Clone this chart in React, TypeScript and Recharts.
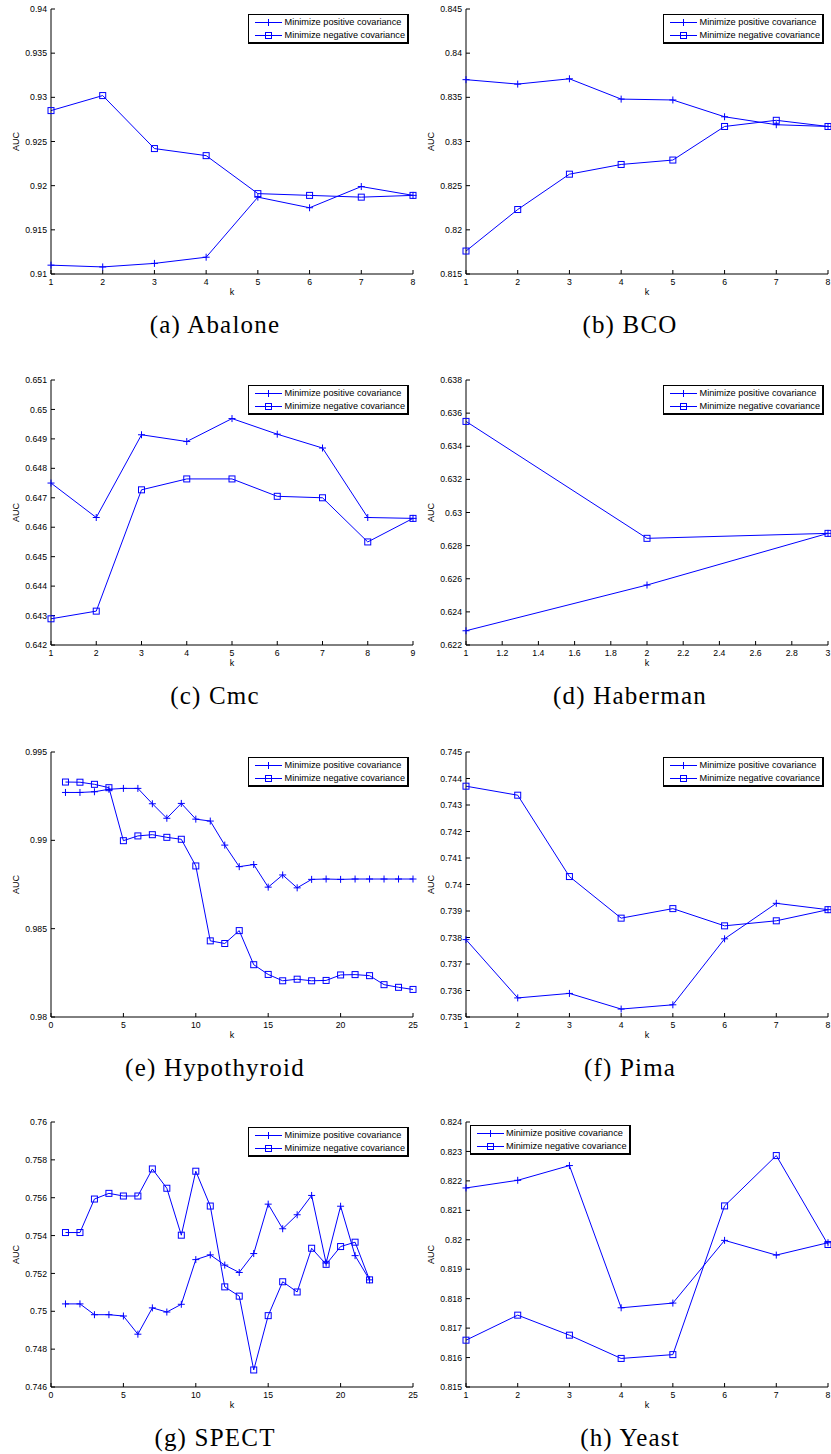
import React from 'react';
import { LineChart, Line, XAxis, YAxis, Legend } from 'recharts';

// ============================================
// DATA
// ============================================
const k3 = [1, 2, 3];
const k8 = [1, 2, 3, 4, 5, 6, 7, 8];
const k9 = [1, 2, 3, 4, 5, 6, 7, 8, 9];
const k22 = [1, 2, 3, 4, 5, 6, 7, 8, 9, 10, 11, 12, 13, 14, 15, 16, 17, 18, 19, 20, 21, 22];
const k25 = [1, 2, 3, 4, 5, 6, 7, 8, 9, 10, 11, 12, 13, 14, 15, 16, 17, 18, 19, 20, 21, 22, 23, 24, 25];

const ticks1to8 = [1, 2, 3, 4, 5, 6, 7, 8];
const ticks1to9 = [1, 2, 3, 4, 5, 6, 7, 8, 9];
const ticks1to3 = [1, 1.2, 1.4, 1.6, 1.8, 2, 2.2, 2.4, 2.6, 2.8, 3];
const ticks0to25 = [0, 5, 10, 15, 20, 25];

// (a) Abalone
const abalonePos = [0.9110, 0.9108, 0.9112, 0.9119, 0.9187, 0.9175, 0.9199, 0.9189];
const abaloneNeg = [0.9285, 0.9302, 0.9242, 0.9234, 0.9191, 0.9189, 0.9187, 0.9189];
const abaloneYTicks = [0.91, 0.915, 0.92, 0.925, 0.93, 0.935, 0.94];

// (b) BCO
const bcoPos = [0.8370, 0.8365, 0.8371, 0.8348, 0.8347, 0.8328, 0.8319, 0.8317];
const bcoNeg = [0.8176, 0.8223, 0.8263, 0.8274, 0.8279, 0.8317, 0.8324, 0.8317];
const bcoYTicks = [0.815, 0.82, 0.825, 0.83, 0.835, 0.84, 0.845];

// (c) Cmc
const cmcPos = [0.6475, 0.64633, 0.64914, 0.64891, 0.64969, 0.64916, 0.64869, 0.64633, 0.6463];
const cmcNeg = [0.64289, 0.64315, 0.64727, 0.64764, 0.64764, 0.64705, 0.647, 0.6455, 0.6463];
const cmcYTicks = [0.642, 0.643, 0.644, 0.645, 0.646, 0.647, 0.648, 0.649, 0.65, 0.651];

// (d) Haberman
const habermanPos = [0.62286, 0.62562, 0.62874];
const habermanNeg = [0.6355, 0.62844, 0.62874];
const habermanYTicks = [0.622, 0.624, 0.626, 0.628, 0.63, 0.632, 0.634, 0.636, 0.638];

// (e) Hypothyroid
const hypoPos = [
  0.99271, 0.99271, 0.99275, 0.99289, 0.99294, 0.99294, 0.99207, 0.99125, 0.99209, 0.9912,
  0.99109, 0.98973, 0.98851, 0.98863, 0.98735, 0.98804, 0.98731, 0.98779, 0.98781, 0.98779,
  0.98781, 0.98781, 0.98781, 0.98781, 0.98781,
];
const hypoNeg = [
  0.9933, 0.99329, 0.99317, 0.99298, 0.98998, 0.99025, 0.99032, 0.99017, 0.99006, 0.98855,
  0.98431, 0.98416, 0.98489, 0.98296, 0.98241, 0.98205, 0.98214, 0.98205, 0.98207, 0.98238,
  0.9824, 0.98234, 0.98183, 0.98168, 0.98156,
];
const hypoYTicks = [0.98, 0.985, 0.99, 0.995];

// (f) Pima
const pimaPos = [0.73792, 0.73572, 0.73589, 0.7353, 0.73546, 0.73795, 0.73929, 0.73905];
const pimaNeg = [0.74371, 0.74337, 0.7403, 0.73873, 0.73909, 0.73844, 0.73863, 0.73905];
const pimaYTicks = [0.735, 0.736, 0.737, 0.738, 0.739, 0.74, 0.741, 0.742, 0.743, 0.744, 0.745];

// (g) SPECT
const spectPos = [
  0.75039, 0.75039, 0.74982, 0.74982, 0.74975, 0.74879, 0.75018, 0.74996, 0.75037, 0.75273,
  0.75298, 0.75244, 0.75205, 0.75305, 0.75566, 0.75436, 0.7551, 0.75612, 0.75255, 0.75555,
  0.75294, 0.75166,
];
const spectNeg = [
  0.75416, 0.75416, 0.75593, 0.75623, 0.75609, 0.75609, 0.75752, 0.7565, 0.75402, 0.7574,
  0.75556, 0.75129, 0.7508, 0.7469, 0.74977, 0.75156, 0.75102, 0.75333, 0.75248, 0.75342,
  0.75365, 0.75166,
];
const spectYTicks = [0.746, 0.748, 0.75, 0.752, 0.754, 0.756, 0.758, 0.76];

// (h) Yeast
const yeastPos = [0.82176, 0.82202, 0.82252, 0.81769, 0.81785, 0.81998, 0.81948, 0.8199];
const yeastNeg = [0.81659, 0.81744, 0.81676, 0.81597, 0.8161, 0.82115, 0.82286, 0.81984];
const yeastYTicks = [0.815, 0.816, 0.817, 0.818, 0.819, 0.82, 0.821, 0.822, 0.823, 0.824];

// ============================================
// LAYOUT
// ============================================
const BLUE = '#0000ff';
const AXIS_FONT = '"Liberation Sans", Arial, Helvetica, sans-serif';
const Y_AXIS_W = 51;
const PLOT_W = 362;
const RIGHT_PAD = 17; // room for the last x tick label
const CHART_W = Y_AXIS_W + PLOT_W + RIGHT_PAD;
const PLOT_TOP = 9;
const PLOT_H = 265;
const X_AXIS_H = 28;
const CHART_H = PLOT_TOP + PLOT_H + X_AXIS_H;
const ROW_TOPS = [9, 380, 752, 1122];
const COL_LEFTS = [0, 415];

interface PanelDef {
  caption: string;
  k: number[];
  pos: number[];
  neg: number[];
  xTicks: number[];
  yTicks: number[];
  legendLeft?: boolean;
}

const panels: PanelDef[] = [
  { caption: '(a) Abalone', k: k8, pos: abalonePos, neg: abaloneNeg, xTicks: ticks1to8, yTicks: abaloneYTicks },
  { caption: '(b) BCO', k: k8, pos: bcoPos, neg: bcoNeg, xTicks: ticks1to8, yTicks: bcoYTicks },
  { caption: '(c) Cmc', k: k9, pos: cmcPos, neg: cmcNeg, xTicks: ticks1to9, yTicks: cmcYTicks },
  { caption: '(d) Haberman', k: k3, pos: habermanPos, neg: habermanNeg, xTicks: ticks1to3, yTicks: habermanYTicks },
  { caption: '(e) Hypothyroid', k: k25, pos: hypoPos, neg: hypoNeg, xTicks: ticks0to25, yTicks: hypoYTicks },
  { caption: '(f) Pima', k: k8, pos: pimaPos, neg: pimaNeg, xTicks: ticks1to8, yTicks: pimaYTicks },
  { caption: '(g) SPECT', k: k22, pos: spectPos, neg: spectNeg, xTicks: ticks0to25, yTicks: spectYTicks },
  { caption: '(h) Yeast', k: k8, pos: yeastPos, neg: yeastNeg, xTicks: ticks1to8, yTicks: yeastYTicks, legendLeft: true },
];

// ============================================
// MARKERS + LEGEND
// ============================================
const plusDot = (p: any) => {
  const { cx, cy, index } = p;
  return (
    <path
      key={`plus-${index}`}
      d={`M${cx - 3.5},${cy}H${cx + 3.5}M${cx},${cy - 3.5}V${cy + 3.5}`}
      stroke={BLUE}
      strokeWidth={1}
      fill="none"
    />
  );
};

const squareDot = (p: any) => {
  const { cx, cy, index } = p;
  return (
    <rect key={`sq-${index}`} x={cx - 3} y={cy - 3} width={6} height={6} stroke={BLUE} strokeWidth={1} fill="none" />
  );
};

function LegendRow({ kind, label }: { kind: 'plus' | 'square'; label: string }) {
  return (
    <div style={{ display: 'flex', alignItems: 'center', height: 13 }}>
      <svg width={29} height={13} style={{ marginRight: 1 }}>
        <line x1={1} y1={6.5} x2={28} y2={6.5} stroke={BLUE} strokeWidth={1} />
        {kind === 'plus' ? (
          <path d="M11,6.5H18M14.5,3V10" stroke={BLUE} strokeWidth={1} fill="none" />
        ) : (
          <rect x={11.5} y={3.5} width={6} height={6} stroke={BLUE} strokeWidth={1} fill="none" />
        )}
      </svg>
      <span>{label}</span>
    </div>
  );
}

function LegendBox() {
  return (
    <div
      style={{
        border: '1px solid #000',
        borderRightWidth: 2,
        borderBottomWidth: 2,
        background: '#fff',
        padding: '1px 2px 0 5px',
        fontFamily: AXIS_FONT,
        fontSize: 9.2,
        lineHeight: '13px',
        color: '#000',
        whiteSpace: 'nowrap',
      }}
    >
      <LegendRow kind="plus" label="Minimize positive covariance" />
      <LegendRow kind="square" label="Minimize negative covariance" />
    </div>
  );
}

// ============================================
// PANEL
// ============================================
function Panel({ panel, left, top }: { panel: PanelDef; left: number; top: number }) {
  const data = panel.k.map((k, i) => ({ k, pos: panel.pos[i], neg: panel.neg[i] }));
  const xDomain = [panel.xTicks[0], panel.xTicks[panel.xTicks.length - 1]];
  const yDomain = [panel.yTicks[0], panel.yTicks[panel.yTicks.length - 1]];
  const tickStyle = { fontSize: 8.7, fill: '#000', fontFamily: AXIS_FONT };
  const legendStyle = panel.legendLeft
    ? { top: PLOT_TOP + 3, left: Y_AXIS_W + 4, width: 'auto' }
    : { top: PLOT_TOP + 5, right: RIGHT_PAD + 4, width: 'auto' };

  return (
    <div style={{ position: 'absolute', left, top: top - PLOT_TOP }}>
      <LineChart
        width={CHART_W}
        height={CHART_H}
        data={data}
        margin={{ top: PLOT_TOP, right: RIGHT_PAD, bottom: 0, left: 0 }}
      >
        <XAxis
          xAxisId="b"
          dataKey="k"
          type="number"
          domain={xDomain}
          ticks={panel.xTicks}
          interval={0}
          height={X_AXIS_H}
          tickSize={-4}
          tickMargin={9}
          tick={tickStyle}
          tickFormatter={(v) => String(v)}
          stroke="#000"
          label={{
            content: () => (
              <text
                x={Y_AXIS_W + PLOT_W / 2}
                y={PLOT_TOP + PLOT_H + 18}
                textAnchor="middle"
                dominantBaseline="central"
                fontSize={9}
                fontFamily={AXIS_FONT}
                fill="#000"
              >
                k
              </text>
            ),
          }}
        />
        <XAxis
          xAxisId="t"
          orientation="top"
          type="number"
          dataKey="k"
          domain={xDomain}
          ticks={panel.xTicks}
          interval={0}
          height={0}
          tickSize={-4}
          tick={false}
          stroke="#000"
        />
        <YAxis
          yAxisId="l"
          type="number"
          domain={yDomain}
          ticks={panel.yTicks}
          interval={0}
          width={Y_AXIS_W}
          tickSize={-4}
          tickMargin={8}
          tick={tickStyle}
          tickFormatter={(v) => String(v)}
          stroke="#000"
          label={{
            content: () => {
              const cy = PLOT_TOP + PLOT_H / 2;
              return (
                <text
                  x={16}
                  y={cy}
                  transform={`rotate(-90 16 ${cy})`}
                  textAnchor="middle"
                  dominantBaseline="central"
                  fontSize={9}
                  fontFamily={AXIS_FONT}
                  fill="#000"
                >
                  AUC
                </text>
              );
            },
          }}
        />
        <YAxis
          yAxisId="r"
          orientation="right"
          type="number"
          domain={yDomain}
          ticks={panel.yTicks}
          interval={0}
          width={0}
          tickSize={-4}
          tick={false}
          stroke="#000"
        />
        <Legend
          layout="vertical"
          align="center"
          verticalAlign="middle"
          wrapperStyle={legendStyle}
          content={() => <LegendBox />}
        />
        <Line
          xAxisId="b"
          yAxisId="l"
          type="linear"
          dataKey="pos"
          stroke={BLUE}
          strokeWidth={1}
          dot={plusDot}
          activeDot={false}
          isAnimationActive={false}
        />
        <Line
          xAxisId="b"
          yAxisId="l"
          type="linear"
          dataKey="neg"
          stroke={BLUE}
          strokeWidth={1}
          dot={squareDot}
          activeDot={false}
          isAnimationActive={false}
        />
      </LineChart>
      <div
        style={{
          position: 'absolute',
          left: 0,
          width: 430,
          top: PLOT_TOP + PLOT_H + 51 - 15,
          height: 30,
          lineHeight: '30px',
          textAlign: 'center',
          fontFamily: '"Liberation Serif", "Times New Roman", serif',
          fontSize: 25,
          letterSpacing: 1.2,
          color: '#000',
          whiteSpace: 'nowrap',
        }}
      >
        {panel.caption}
      </div>
    </div>
  );
}

export default function App() {
  return (
    <div style={{ position: 'absolute', left: 0, top: 0, width: 831, height: 1454, background: '#fff', overflow: 'hidden' }}>
      {panels.map((p, i) => (
        <Panel key={p.caption} panel={p} left={COL_LEFTS[i % 2]} top={ROW_TOPS[Math.floor(i / 2)]} />
      ))}
    </div>
  );
}
